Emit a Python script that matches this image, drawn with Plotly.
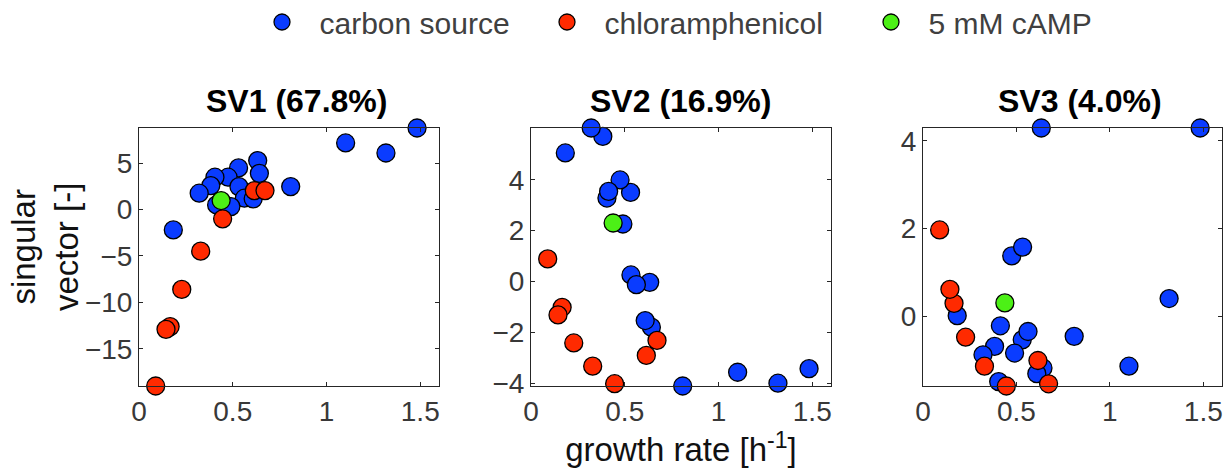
import plotly.graph_objects as go

# ---------------- data ----------------
growth_carbon = [1.483, 1.102, 1.317, 0.809, 0.633, 0.642, 0.531, 0.475, 0.405,
                 0.383, 0.321, 0.533, 0.562, 0.609, 0.414, 0.490, 0.183]
sv1_carbon = [8.78, 7.17, 6.09, 2.47, 5.27, 3.90, 4.48, 3.48, 3.48,
              2.58, 1.76, 2.47, 1.22, 1.15, 0.50, 0.32, -2.19]
sv2_carbon = [-3.42, -3.56, -3.99, -4.10, -0.03, -1.79, 3.50, 3.99, 3.28,
              5.70, 6.03, 0.26, -0.12, -1.53, 3.54, 2.26, 5.05]
sv3_carbon = [4.29, -1.13, 0.41, -0.45, 4.29, -1.17, -0.53, 1.38, -1.48,
              -0.68, -0.87, 1.58, -0.34, -1.30, -0.21, -0.83, 0.02]

growth_cm = [0.615, 0.672, 0.446, 0.329, 0.228, 0.166, 0.144, 0.089]
sv1_cm = [2.04, 2.04, -1.00, -4.48, -8.60, -12.60, -12.90, -19.00]
sv2_cm = [-2.90, -2.31, -4.01, -3.32, -2.41, -1.01, -1.31, 0.89]
sv3_cm = [-1.00, -1.53, -1.58, -1.13, -0.47, 0.30, 0.62, 1.97]

growth_camp = [0.438]
sv1_camp = [0.97]
sv2_camp = [2.30]
sv3_camp = [0.31]

panel_titles = ["SV1 (67.8%)", "SV2 (16.9%)", "SV3 (4.0%)"]
series_names = ["carbon source", "chloramphenicol", "5 mM cAMP"]
series_colors = ["#0a3cff", "#ff2a00", "#4cf016"]
x_ticks = [0, 0.5, 1, 1.5]
x_ticktext = ["0", "0.5", "1", "1.5"]
y_ticks = [[-15, -10, -5, 0, 5], [-4, -2, 0, 2, 4], [0, 2, 4]]

# ---------------- figure ----------------
W, H = 1231, 472
FONT = "Liberation Sans, Arial, Helvetica, sans-serif"
AX = "#262626"
x_px = [(139, 439), (531, 831), (923, 1222)]
y_px = (128, 386)
title_cx = [296, 680, 1080]
legend_left_px = [262, 547, 871]

groups = [
    (growth_carbon, [sv1_carbon, sv2_carbon, sv3_carbon]),
    (growth_cm, [sv1_cm, sv2_cm, sv3_cm]),
    (growth_camp, [sv1_camp, sv2_camp, sv3_camp]),
]

fig = go.Figure()
for p in range(3):
    xa = "x" if p == 0 else f"x{p+1}"
    ya = "y" if p == 0 else f"y{p+1}"
    for g, (gx, svs) in enumerate(groups):
        fig.add_trace(go.Scatter(
            x=gx, y=svs[p], mode="markers",
            name="\u2002\u200a" + series_names[g],
            xaxis=xa, yaxis=ya, cliponaxis=False,
            showlegend=(p == 0),
            legend="legend" if g == 0 else f"legend{g+1}",
            marker=dict(size=18, color=series_colors[g],
                        line=dict(color="#000000", width=1.3)),
        ))

layout = dict(
    template="none",
    width=W, height=H, margin=dict(l=0, r=0, t=0, b=0, autoexpand=False),
    paper_bgcolor="white", plot_bgcolor="white",
    font=dict(family=FONT, color=AX, size=28),
    annotations=[],
)

for p in range(3):
    sfx = "" if p == 0 else str(p + 1)
    allv = [v for (_, svs) in groups for v in svs[p]]
    ymin, ymax = min(allv), max(allv)
    layout["xaxis" + sfx] = dict(
        domain=[x_px[p][0] / W, x_px[p][1] / W], range=[0, 1.6],
        anchor="y" + sfx, tickvals=x_ticks, ticktext=x_ticktext,
        ticks="inside", ticklen=4, tickwidth=1, tickcolor=AX,
        showline=True, linecolor=AX, linewidth=1, mirror="ticks",
        showgrid=False, zeroline=False, automargin=False,
        tickfont=dict(size=28, color="#383838", family=FONT),
    )
    layout["yaxis" + sfx] = dict(
        domain=[1 - y_px[1] / H, 1 - y_px[0] / H], range=[ymin, ymax],
        anchor="x" + sfx, tickvals=y_ticks[p],
        ticks="inside", ticklen=4, tickwidth=1, tickcolor=AX,
        showline=True, linecolor=AX, linewidth=1, mirror="ticks",
        showgrid=False, zeroline=False, automargin=False,
        tickfont=dict(size=28, color="#383838", family=FONT),
    )
    layout["annotations"].append(dict(
        text=f"<b>{panel_titles[p]}</b>", xref="paper", yref="paper",
        x=title_cx[p] / W, y=1 - 101 / H, xanchor="center", yanchor="middle",
        showarrow=False, font=dict(size=32, color="#000000", family=FONT),
    ))

layout["xaxis2"]["title"] = dict(
    text="growth rate [h<sup>-1</sup>]", standoff=6,
    font=dict(size=33, color="#111111", family=FONT))

layout["annotations"].append(dict(
    text="singular<br>vector [-]", xref="paper", yref="paper",
    x=45 / W, y=1 - 247 / H, xanchor="center", yanchor="middle",
    textangle=-90, showarrow=False,
    font=dict(size=33, color="#111111", family=FONT),
))

for g in range(3):
    key = "legend" if g == 0 else f"legend{g+1}"
    layout[key] = dict(
        x=legend_left_px[g] / W, y=1 - 22 / H,
        xanchor="left", yanchor="middle",
        orientation="h", bgcolor="rgba(0,0,0,0)", borderwidth=0,
        font=dict(size=30, color="#404040", family=FONT),
    )

fig.update_layout(**layout)
fig.write_html(
    "out.html",
    config={"displayModeBar": False},
    post_script="document.body.style.margin='0';document.body.style.overflow='hidden';",
)
